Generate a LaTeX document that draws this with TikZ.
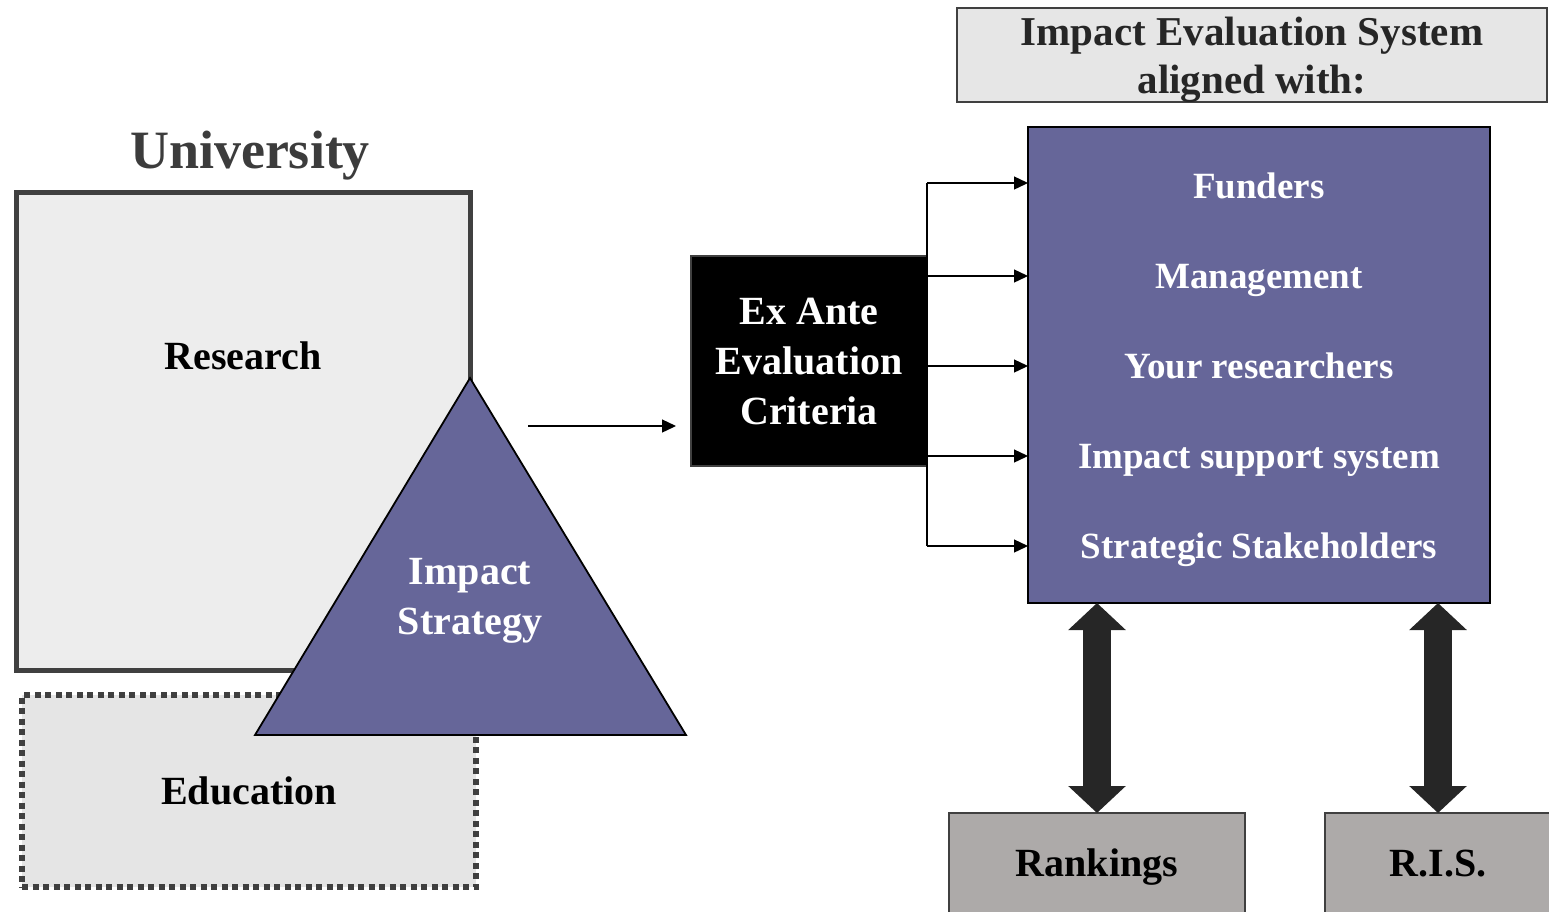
\documentclass[tikz,border=0pt]{standalone}
\usepackage{fontspec}
\setmainfont{Liberation Serif}
\usepackage{tikz}
\usetikzlibrary{arrows.meta}
\definecolor{stratpurple}{HTML}{666699}
\definecolor{boxgray}{HTML}{404040}
\definecolor{respaper}{HTML}{EDEDED}
\definecolor{edupaper}{HTML}{E5E5E5}
\definecolor{titlepaper}{HTML}{E6E6E6}
\definecolor{rankgray}{HTML}{ADAAA9}
\definecolor{arrowdark}{HTML}{262626}
\newcommand{\labfont}{\fontsize{40}{50}\selectfont\bfseries}
\newcommand{\titlefont}{\fontsize{41}{48}\selectfont\bfseries}
\newcommand{\itemfont}{\fontsize{37}{42}\selectfont\bfseries}
\newcommand{\unifont}{\fontsize{54}{60}\selectfont\bfseries}

\begin{document}
\begin{tikzpicture}[x=1pt,y=-1pt,
	every node/.style={inner sep=0pt, outer sep=0pt, text depth=0pt},
	resbox/.style={draw=boxgray, line width=5pt, fill=respaper},
	edubox/.style={draw=boxgray, line width=6pt, fill=edupaper, dash pattern=on 6pt off 4.5pt},
	titlebox/.style={draw=boxgray, line width=2pt, fill=titlepaper, align=center, text=arrowdark, font=\titlefont},
	exbox/.style={draw=boxgray, line width=2pt, fill=black, text=white, align=center, font=\labfont},
	sysbox/.style={draw=black, line width=2pt, fill=stratpurple},
	sysitem/.style={text=white, font=\itemfont},
	rankbox/.style={draw=boxgray, line width=2pt, fill=rankgray, font=\labfont},
	feed/.style={line width=1.3pt, -{Triangle[length=14pt,width=13pt]}},
	twoway/.style={line width=28pt, arrowdark, {Triangle[length=27pt,width=56pt]}-{Triangle[length=27pt,width=56pt]}}
	]
	\useasboundingbox (0,0) rectangle (1549,911);
	\node[titlebox, minimum width=590pt, minimum height=94pt] (title) at (1252,55) {Impact Evaluation System\\aligned with:};
	\node[text=arrowdark!90, font=\unifont] (uni) at (250,150) {University};
	\node[resbox, minimum width=454pt, minimum height=478pt] (resbox) at (243,431) {};
	\node[font=\labfont] (research) at (243,356) {Research};
	\node[edubox, minimum width=454pt, minimum height=192pt, font=\labfont] (edu) at (249,791) {Education};
	\filldraw[fill=stratpurple, draw=black, line width=1.8pt] (470,378) coordinate (apex) -- (686,735) -- (255,735) -- cycle;
	\node[text=white, align=center, font=\labfont] (strat) at (470,596) {Impact\\Strategy};
	\node[exbox, minimum width=236pt, minimum height=210pt] (exante) at (809,361) {Ex Ante\\Evaluation\\Criteria};
	\coordinate (tail) at (528,426);
	\draw[feed] (tail) -- ([xshift=-15pt]exante.west |- tail);
	\node[sysbox, minimum width=462pt, minimum height=476pt] (sys) at (1259,365) {};
	\node[sysitem] (f1) at (1259,186) {Funders};
	\node[sysitem] (f2) at (1259,276) {Management};
	\node[sysitem] (f3) at (1259,366) {Your researchers};
	\node[sysitem] (f4) at (1259,456) {Impact support system};
	\node[sysitem] (f5) at (1259,546) {Strategic Stakeholders};
	\draw[line width=1.3pt] ([yshift=3pt]exante.east |- f1) -- (exante.east |- f5);
	\draw[feed] ([yshift=3pt]exante.east |- f1) -- ([yshift=3pt]sys.west |- f1);
	\foreach \k in {2,...,5}
		\draw[feed] (exante.east |- f\k) -- (sys.west |- f\k);
	\node[rankbox, minimum width=296pt, minimum height=100pt] (rank) at (1097,863) {Rankings};
	\node[rankbox, minimum width=226pt, minimum height=100pt] (ris) at (1438,863) {R.I.S.};
	\draw[twoway] (rank.north |- sys.south) -- (rank.north);
	\draw[twoway] (ris.north |- sys.south) -- (ris.north);
\end{tikzpicture}
\end{document}
